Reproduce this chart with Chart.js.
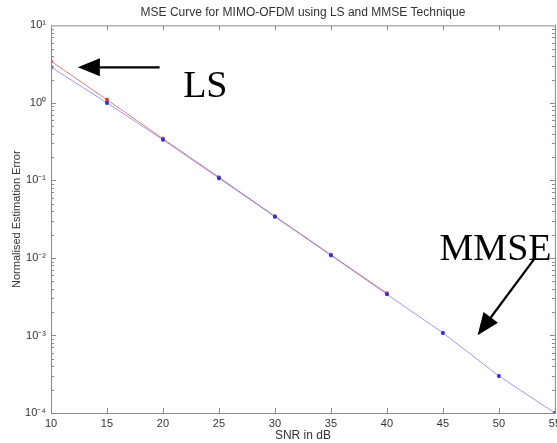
<!DOCTYPE html>
<html>
<head>
<meta charset="utf-8">
<script src="https://cdn.jsdelivr.net/npm/chart.js@4.4.1/dist/chart.umd.min.js"></script>
<style>
  html, body { margin: 0; padding: 0; background: #fff; overflow: hidden; }
  #wrap { position: relative; width: 565px; height: 443px; }
</style>
</head>
<body>
<div id="wrap"><canvas id="mseChart" width="565" height="443"></canvas></div>
<script>
// SNR values (dB) on the x axis
const snr = [10, 15, 20, 25, 30, 35, 40, 45, 50, 55];
// Normalised estimation error
const lsError = [3.45, 1.1, 0.345, 0.11, 0.0345, 0.011, 0.0035, null, null, null];
const mmseError = [2.9, 1.0, 0.335, 0.107, 0.034, 0.0108, 0.0034, 0.00108, 0.0003, 0.0001];
const xTicks = [10, 15, 20, 25, 30, 35, 40, 45, 50, 55];
const yTicks = [1e-4, 1e-3, 1e-2, 1e-1, 1, 10];
const yTickLabels = ['10\u207B\u2074', '10\u207B\u00B3', '10\u207B\u00B2', '10\u207B\u00B9', '10\u2070', '10\u00B9'];

const axisColor = '#8a8a8a';
const textColor = '#333';
const fontFam = 'Liberation Sans, Arial, sans-serif';

// MATLAB style box with inward ticks
const boxPlugin = {
    id: 'box',
    afterDraw(chart) {
        const ctx = chart.ctx;
        const a = chart.chartArea;
        const xs = chart.scales.x;
        const ys = chart.scales.y;
        ctx.save();
        ctx.strokeStyle = axisColor;
        ctx.lineWidth = 1;
        ctx.strokeRect(a.left + 0.5, a.top + 0.5, a.right - a.left, a.bottom - a.top);
        ctx.beginPath();
        xTicks.forEach(v => {
            const px = Math.round(xs.getPixelForValue(v)) + 0.5;
            ctx.moveTo(px, a.bottom); ctx.lineTo(px, a.bottom - 5);
            ctx.moveTo(px, a.top); ctx.lineTo(px, a.top + 5);
        });
        for (let e = -4; e <= 0; e++) {
            for (let m = 1; m <= 9; m++) {
                const py = Math.round(ys.getPixelForValue(m * Math.pow(10, e))) + 0.5;
                const len = m === 1 ? 5 : 3;
                ctx.moveTo(a.left, py); ctx.lineTo(a.left + len, py);
                ctx.moveTo(a.right, py); ctx.lineTo(a.right - len, py);
            }
        }
        ctx.stroke();
        ctx.restore();
    }
};

function arrow(ctx, x1, y1, x2, y2) {
    const ang = Math.atan2(y2 - y1, x2 - x1);
    const hl = 22, hw = 9;
    const bx = x2 - hl * Math.cos(ang), by = y2 - hl * Math.sin(ang);
    ctx.beginPath();
    ctx.moveTo(x1, y1);
    ctx.lineTo(bx, by);
    ctx.stroke();
    ctx.beginPath();
    ctx.moveTo(x2, y2);
    ctx.lineTo(bx + hw * Math.sin(ang), by - hw * Math.cos(ang));
    ctx.lineTo(bx - hw * Math.sin(ang), by + hw * Math.cos(ang));
    ctx.closePath();
    ctx.fill();
}

// "LS" and "MMSE" callouts, placed in data units
const calloutPlugin = {
    id: 'callouts',
    afterDraw(chart) {
        const ctx = chart.ctx;
        const xs = chart.scales.x;
        const ys = chart.scales.y;
        const X = v => xs.getPixelForValue(v);
        const Y = v => ys.getPixelForValue(v);
        ctx.save();
        ctx.strokeStyle = '#000';
        ctx.fillStyle = '#000';
        ctx.lineWidth = 2.2;
        arrow(ctx, X(19.7), Y(2.88), X(12.4), Y(2.88));
        arrow(ctx, X(53.2), Y(0.0099), X(48.1), Y(0.00101));
        ctx.font = '38px "Liberation Serif", "Times New Roman", serif';
        ctx.textBaseline = 'alphabetic';
        ctx.fillText('LS', X(21.8), Y(1.2));
        ctx.fillText('MMSE', X(44.7), Y(0.0095));
        ctx.restore();
    }
};

const ctx = document.getElementById('mseChart').getContext('2d');
new Chart(ctx, {
    type: 'line',
    data: {
        datasets: [
            {
                label: 'LS',
                data: snr.map((s, i) => ({ x: s, y: lsError[i] })),
                borderColor: 'rgba(215, 80, 80, 0.75)',
                backgroundColor: 'rgba(210, 60, 60, 1)',
                borderWidth: 1,
                pointStyle: 'star',
                pointRadius: 2,
                pointBorderWidth: 1.2,
                pointBorderColor: 'rgba(210, 60, 60, 1)',
                spanGaps: false,
                order: 2
            },
            {
                label: 'MMSE',
                data: snr.map((s, i) => ({ x: s, y: mmseError[i] })),
                borderColor: 'rgba(120, 120, 235, 0.75)',
                backgroundColor: '#3030c8',
                borderWidth: 1,
                pointStyle: 'star',
                pointRadius: 2,
                pointBorderWidth: 1.2,
                pointBorderColor: '#3030c8',
                order: 1
            }
        ]
    },
    options: {
        responsive: false,
        animation: false,
        layout: { padding: { left: 10, right: 0, top: 0, bottom: 0 } },
        plugins: {
            legend: { display: false },
            tooltip: { enabled: false },
            title: {
                display: true,
                fullSize: false,
                text: 'MSE Curve for MIMO-OFDM using LS and MMSE Technique',
                color: textColor,
                font: { family: fontFam, size: 12, weight: 'normal' },
                padding: { top: 5, bottom: 6 }
            }
        },
        scales: {
            x: {
                type: 'linear',
                min: 10,
                max: 55,
                afterBuildTicks: s => { s.ticks = xTicks.map(v => ({ value: v })); },
                afterFit: s => { s.height = 30; },
                grid: { display: false, drawTicks: false, tickLength: 0 },
                border: { display: false },
                ticks: {
                    color: textColor,
                    font: { family: fontFam, size: 11 },
                    padding: 4,
                    maxRotation: 0,
                    autoSkip: false
                },
                title: {
                    display: true,
                    text: 'SNR in dB',
                    color: textColor,
                    font: { family: fontFam, size: 12 },
                    padding: { top: 0, bottom: 0 }
                }
            },
            y: {
                type: 'logarithmic',
                min: 1e-4,
                max: 10,
                afterBuildTicks: s => { s.ticks = yTicks.map(v => ({ value: v })); },
                afterFit: s => { s.width = 41; },
                grid: { display: false, drawTicks: false, tickLength: 0 },
                border: { display: false },
                ticks: {
                    color: textColor,
                    font: { family: fontFam, size: 11 },
                    padding: 5,
                    autoSkip: false,
                    callback: (v) => yTickLabels[yTicks.indexOf(v)] || ''
                },
                title: {
                    display: true,
                    text: 'Normalised Estimation Error',
                    color: textColor,
                    font: { family: fontFam, size: 11 },
                    padding: { top: 0, bottom: 0 }
                }
            }
        }
    },
    plugins: [boxPlugin, calloutPlugin]
});
</script>
</body>
</html>
